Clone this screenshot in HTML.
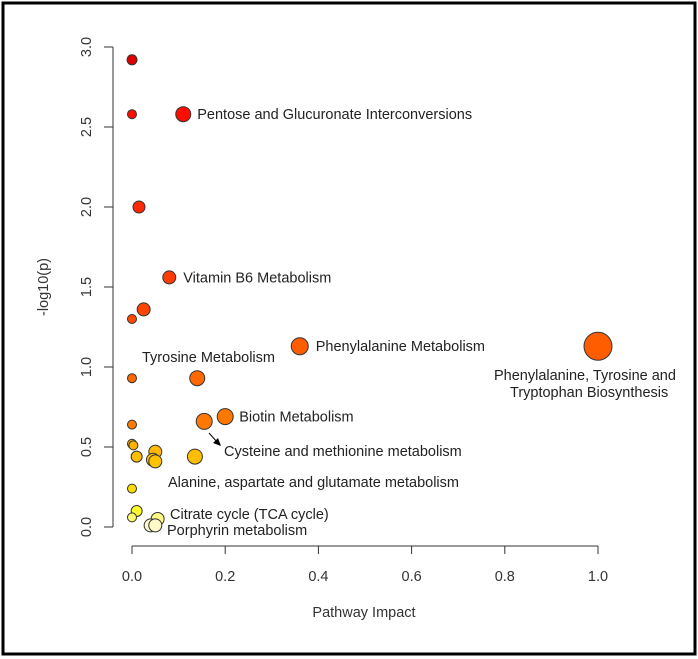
<!DOCTYPE html>
<html><head><meta charset="utf-8"><style>
body{margin:0;background:#fff;}
svg{display:block;font-family:"Liberation Sans",sans-serif;}
</style></head><body>
<svg width="698" height="659">
<rect x="3" y="3" width="692" height="651" fill="#fff" stroke="#000" stroke-width="3"/>
<g id="axes"></g>
<g id="pts"></g>
<g id="lbls" font-size="14.5" fill="#222"></g>
<text x="364" y="617" font-size="14.5" text-anchor="middle" fill="#333">Pathway Impact</text>
<text transform="translate(48,287) rotate(-90)" font-size="14.5" text-anchor="middle" fill="#333">-log10(p)</text>
</svg>
<script>
const impact=[0,0,0.11,0.015,0.08,0.025,0,0.36,1.0,0,0.14,0.2,0.155,0,0,0.003,0.01,0.05,0.045,0.05,0.135,0,0.01,0,0.055,0.04,0.05];
const logp=[2.92,2.58,2.58,2.0,1.56,1.36,1.3,1.13,1.13,0.93,0.93,0.69,0.66,0.64,0.52,0.51,0.44,0.47,0.42,0.41,0.44,0.24,0.1,0.06,0.05,0.01,0.01];
const radius=[5,4.5,7.5,6,6.5,6.5,4.5,8.5,14,4.5,7.5,8,8,4.5,4.5,4.5,5.5,6.5,6.5,6.5,7.5,4.5,5.5,4.5,6.5,6.5,6.5];
const xTicks=[0,0.2,0.4,0.6,0.8,1.0];
const yTicks=[0,0.5,1.0,1.5,2.0,2.5,3.0];
const labels=[["Pentose and Glucuronate Interconversions",0.11,2.58],["Vitamin B6 Metabolism",0.08,1.56],["Phenylalanine Metabolism",0.36,1.13],["Biotin Metabolism",0.2,0.69]];
const X=v=>132+v*466, Y=v=>527-v*160;
const ns="http://www.w3.org/2000/svg";
function mk(t,a,p){const e=document.createElementNS(ns,t);for(const k in a)e.setAttribute(k,a[k]);p.appendChild(e);return e;}
const ax=document.getElementById('axes');
let l=mk('line',{x1:113,x2:113,y1:Y(3),y2:Y(0),stroke:'#333'},ax);


l=mk('line',{x1:X(0),x2:X(1),y1:546,y2:546,stroke:'#333'},ax);


yTicks.forEach(v=>{mk('line',{x1:104,x2:113,y1:Y(v),y2:Y(v),stroke:'#333'},ax);
 const t=mk('text',{transform:`translate(91,${Y(v)}) rotate(-90)`,'text-anchor':'middle','font-size':14.5,fill:'#333'},ax);t.textContent=v.toFixed(1);
 
 });
xTicks.forEach(v=>{mk('line',{x1:X(v),x2:X(v),y1:546,y2:554,stroke:'#333'},ax);
 const t=mk('text',{x:X(v),y:581,'text-anchor':'middle','font-size':14.5,fill:'#333'},ax);t.textContent=v.toFixed(1);
 
 });
function col(p){
 if(p>=1.3){const g=Math.round(Math.max(0,(2.9-p))*45);return `rgb(${p>2.8?220:255},${g},0)`;}
 if(p>=0.6){const g=Math.round(125-(p-0.6)*60);return `rgb(255,${g},0)`;}
 if(p>=0.2){const g=Math.round(225-(p-0.2)*150);return `rgb(255,${g},0)`;}
 const b=Math.round(220-p*1800);return `rgb(255,250,${Math.max(0,b)})`;
}
const pg=document.getElementById('pts');
impact.forEach((v,i)=>{const c=mk('circle',{cx:X(v),cy:Y(logp[i]),r:radius[i],fill:col(logp[i]),stroke:'#333','stroke-width':1},pg);
 
 });
const lg=document.getElementById('lbls');
labels.forEach(a=>{const t=mk('text',{x:X(a[1])+(a[1]>0.3?16:14),y:Y(a[2])+5},lg);t.textContent=a[0];
 
 });
const extra=[["Tyrosine Metabolism",142,362],["Phenylalanine, Tyrosine and",494,380],["Tryptophan Biosynthesis",510,397],["Cysteine and methionine metabolism",224,456],["Alanine, aspartate and glutamate metabolism",168,487],["Citrate cycle (TCA cycle)",170,519],["Porphyrin metabolism",167,535]];
extra.forEach(a=>{const t=mk('text',{x:a[1],y:a[2]},lg);t.textContent=a[0];
 
 });
mk('line',{x1:209,y1:433,x2:218,y2:443,stroke:'#000'},lg);
mk('path',{d:'M221,446 L213,443 L218,438 Z',fill:'#000'},lg);
</script>
</body></html>
